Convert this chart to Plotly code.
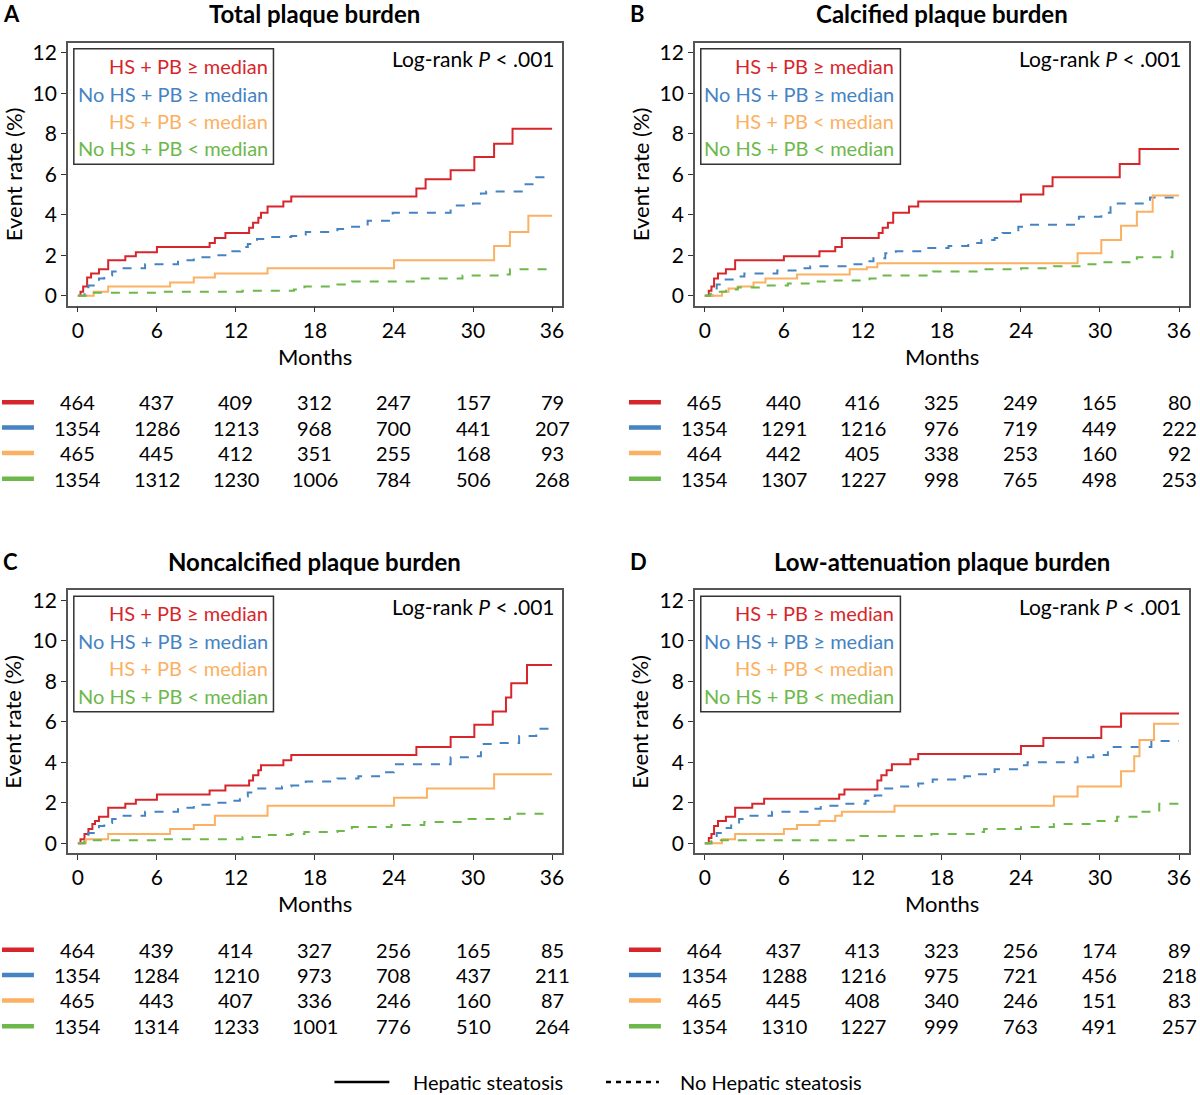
import plotly.graph_objects as go

# ---- data (months, event rate %) ----
A_RED_T = [0, 0.2, 0.4, 0.7, 1.0, 1.6, 2.3, 3.6, 4.4, 6.0, 10.0, 10.4, 11.2, 13.0, 13.3, 13.7, 13.9, 14.4, 15.6, 16.2, 25.7, 26.4, 28.3, 30.1, 31.6, 33.0, 36]
A_RED_Y = [0, 0.2, 0.45, 0.9, 1.1, 1.3, 1.75, 1.95, 2.15, 2.4, 2.6, 2.85, 3.1, 3.35, 3.6, 3.85, 4.1, 4.4, 4.65, 4.9, 5.3, 5.75, 6.2, 6.85, 7.5, 8.25, 8.25]
A_BLUE_T = [0, 0.5, 0.8, 1.2, 1.6, 2.0, 2.6, 3.3, 5.1, 7.6, 8.8, 10.5, 11.6, 12.3, 12.9, 13.6, 14.2, 16.2, 17.3, 19.7, 20.5, 22.0, 23.9, 28.3, 30.0, 30.6, 31.0, 33.7, 34.8, 36]
A_BLUE_Y = [0, 0.3, 0.5, 0.7, 0.85, 1.0, 1.2, 1.35, 1.55, 1.75, 1.9, 2.0, 2.2, 2.4, 2.55, 2.8, 2.9, 2.95, 3.15, 3.3, 3.4, 3.7, 4.1, 4.45, 4.55, 5.05, 5.15, 5.5, 5.85, 5.85]
A_ORANGE_T = [0, 1.2, 2.3, 7.0, 8.8, 10.4, 14.4, 24.0, 31.6, 32.8, 34.2, 36]
A_ORANGE_Y = [0, 0.2, 0.45, 0.65, 0.9, 1.1, 1.35, 1.75, 2.45, 3.15, 3.95, 3.95]
A_GREEN_T = [0, 0.6, 1.0, 6.0, 12.5, 16.4, 17.2, 19.7, 20.8, 26.0, 29.2, 32.0, 32.8, 36]
A_GREEN_Y = [0, 0.1, 0.15, 0.2, 0.25, 0.3, 0.45, 0.55, 0.7, 0.85, 1.0, 1.05, 1.3, 1.3]

B_RED_T = [0, 0.3, 0.5, 0.7, 1.0, 1.6, 2.3, 6.0, 8.7, 9.9, 10.4, 13.2, 13.5, 13.9, 14.3, 15.5, 16.2, 24.0, 25.7, 26.4, 31.5, 33.0, 36]
B_RED_Y = [0, 0.25, 0.45, 0.85, 1.1, 1.3, 1.75, 1.95, 2.2, 2.4, 2.85, 3.1, 3.35, 3.6, 4.1, 4.4, 4.65, 5.0, 5.4, 5.85, 6.5, 7.25, 7.25]
B_BLUE_T = [0, 0.6, 0.9, 1.5, 2.2, 3.0, 5.5, 7.0, 8.0, 11.0, 12.2, 12.8, 13.7, 14.5, 16.5, 18.5, 20.0, 21.0, 22.0, 22.6, 23.8, 24.5, 28.4, 30.1, 30.8, 33.8, 36]
B_BLUE_Y = [0, 0.3, 0.55, 0.8, 0.95, 1.1, 1.25, 1.35, 1.45, 1.55, 1.7, 1.85, 2.1, 2.2, 2.35, 2.45, 2.6, 2.75, 2.85, 3.1, 3.4, 3.5, 3.9, 4.1, 4.55, 4.85, 4.85]
B_ORANGE_T = [0, 1.3, 1.8, 2.5, 3.7, 4.6, 7.0, 11.0, 12.3, 13.1, 28.3, 30.1, 31.6, 32.8, 34.0, 36]
B_ORANGE_Y = [0, 0.2, 0.35, 0.45, 0.65, 0.85, 1.05, 1.3, 1.4, 1.6, 2.1, 2.75, 3.45, 4.15, 4.95, 4.95]
B_GREEN_T = [0, 0.4, 0.8, 1.6, 2.5, 4.5, 6.3, 8.0, 9.5, 12.5, 13.2, 17.3, 21.0, 24.0, 26.5, 29.0, 30.1, 32.8, 35.5, 36]
B_GREEN_Y = [0, 0.1, 0.2, 0.3, 0.4, 0.5, 0.6, 0.7, 0.75, 0.85, 1.0, 1.2, 1.3, 1.35, 1.45, 1.55, 1.65, 1.9, 2.2, 2.2]

C_RED_T = [0, 0.2, 0.5, 0.8, 1.1, 1.3, 1.6, 2.3, 3.6, 4.4, 6.0, 10.0, 11.2, 13.0, 13.3, 13.7, 13.9, 15.6, 16.2, 25.7, 28.3, 30.1, 31.5, 32.5, 32.9, 34.1, 36]
C_RED_Y = [0, 0.2, 0.45, 0.7, 0.95, 1.1, 1.3, 1.75, 1.95, 2.15, 2.4, 2.6, 2.85, 3.1, 3.35, 3.6, 3.85, 4.1, 4.35, 4.75, 5.25, 5.85, 6.5, 7.2, 7.9, 8.8, 8.8]
C_BLUE_T = [0, 0.5, 0.8, 1.2, 1.6, 2.0, 2.6, 3.3, 5.1, 7.6, 8.8, 10.5, 11.6, 12.3, 12.9, 13.6, 15.5, 16.2, 17.3, 19.7, 21.3, 23.3, 24.0, 28.3, 30.0, 30.6, 31.5, 33.5, 34.8, 36]
C_BLUE_Y = [0, 0.3, 0.5, 0.7, 0.85, 1.0, 1.2, 1.35, 1.55, 1.75, 1.9, 2.0, 2.1, 2.3, 2.5, 2.7, 2.8, 2.85, 3.05, 3.2, 3.3, 3.5, 3.9, 4.25, 4.3, 4.9, 4.95, 5.3, 5.65, 5.65]
C_ORANGE_T = [0, 0.6, 2.3, 7.0, 8.8, 10.4, 14.4, 24.0, 26.5, 31.6, 36]
C_ORANGE_Y = [0, 0.2, 0.45, 0.7, 0.9, 1.35, 1.85, 2.25, 2.7, 3.4, 3.4]
C_GREEN_T = [0, 0.5, 1.0, 6.0, 12.5, 14.0, 16.2, 17.2, 19.7, 20.8, 23.8, 26.3, 29.2, 32.8, 36]
C_GREEN_Y = [0, 0.1, 0.15, 0.2, 0.3, 0.4, 0.45, 0.55, 0.6, 0.8, 0.9, 1.05, 1.2, 1.45, 1.45]

D_RED_T = [0, 0.3, 0.5, 0.7, 1.0, 1.6, 2.3, 3.6, 4.5, 10.2, 10.6, 13.1, 13.4, 13.8, 14.2, 15.6, 16.2, 24.0, 25.7, 30.1, 31.6, 36]
D_RED_Y = [0, 0.25, 0.45, 0.85, 1.1, 1.3, 1.75, 1.95, 2.2, 2.4, 2.65, 3.1, 3.35, 3.6, 3.9, 4.15, 4.4, 4.8, 5.2, 5.75, 6.4, 6.4]
D_BLUE_T = [0, 0.5, 0.9, 1.4, 2.0, 2.6, 3.3, 5.1, 7.8, 8.8, 10.5, 12.2, 12.9, 13.6, 14.6, 16.2, 17.3, 19.7, 20.5, 22.0, 23.9, 24.5, 28.3, 29.5, 30.6, 33.9, 36]
D_BLUE_Y = [0, 0.25, 0.5, 0.75, 0.95, 1.2, 1.35, 1.55, 1.7, 1.85, 1.95, 2.1, 2.35, 2.7, 2.8, 2.95, 3.15, 3.3, 3.4, 3.65, 3.85, 4.0, 4.25, 4.35, 4.75, 5.05, 5.05]
D_ORANGE_T = [0, 1.3, 2.3, 6.0, 7.0, 8.7, 9.9, 10.4, 14.4, 26.5, 28.3, 31.6, 32.6, 33.0, 34.1, 36]
D_ORANGE_Y = [0, 0.2, 0.45, 0.7, 0.9, 1.1, 1.35, 1.55, 1.85, 2.3, 2.8, 3.55, 4.3, 5.1, 5.9, 5.9]
D_GREEN_T = [0, 0.5, 1.0, 11.8, 17.2, 20.6, 21.2, 24.0, 26.5, 29.3, 31.3, 33.0, 34.5, 36]
D_GREEN_Y = [0, 0.1, 0.15, 0.35, 0.45, 0.55, 0.7, 0.8, 0.95, 1.1, 1.3, 1.55, 1.95, 1.95]

# numbers at risk (0, 6, ..., 36 months)
A_RISK_RED = [464, 437, 409, 312, 247, 157, 79]
A_RISK_BLUE = [1354, 1286, 1213, 968, 700, 441, 207]
A_RISK_ORANGE = [465, 445, 412, 351, 255, 168, 93]
A_RISK_GREEN = [1354, 1312, 1230, 1006, 784, 506, 268]
B_RISK_RED = [465, 440, 416, 325, 249, 165, 80]
B_RISK_BLUE = [1354, 1291, 1216, 976, 719, 449, 222]
B_RISK_ORANGE = [464, 442, 405, 338, 253, 160, 92]
B_RISK_GREEN = [1354, 1307, 1227, 998, 765, 498, 253]
C_RISK_RED = [464, 439, 414, 327, 256, 165, 85]
C_RISK_BLUE = [1354, 1284, 1210, 973, 708, 437, 211]
C_RISK_ORANGE = [465, 443, 407, 336, 246, 160, 87]
C_RISK_GREEN = [1354, 1314, 1233, 1001, 776, 510, 264]
D_RISK_RED = [464, 437, 413, 323, 256, 174, 89]
D_RISK_BLUE = [1354, 1288, 1216, 975, 721, 456, 218]
D_RISK_ORANGE = [465, 445, 408, 340, 246, 151, 83]
D_RISK_GREEN = [1354, 1310, 1227, 999, 763, 491, 257]

MONTH_TICKS = [0, 6, 12, 18, 24, 30, 36]
GROUPS = ["HS + PB ≥ median", "No HS + PB ≥ median", "HS + PB &lt; median", "No HS + PB &lt; median"]
TITLES = ["Total plaque burden", "Calcified plaque burden", "Noncalcified plaque burden", "Low-attenuation plaque burden"]
LETTERS = ["A", "B", "C", "D"]

COLORS = ["#d7262b", "#4583c3", "#fbb062", "#6db84b"]
DASHES = ["solid", "dash", "solid", "dash"]
FONT = "Lato"

W, H = 1200, 1095


def px(p):
    return p / W


def py(p):
    return 1 - p / H


curves = [
    [(A_RED_T, A_RED_Y), (A_BLUE_T, A_BLUE_Y), (A_ORANGE_T, A_ORANGE_Y), (A_GREEN_T, A_GREEN_Y)],
    [(B_RED_T, B_RED_Y), (B_BLUE_T, B_BLUE_Y), (B_ORANGE_T, B_ORANGE_Y), (B_GREEN_T, B_GREEN_Y)],
    [(C_RED_T, C_RED_Y), (C_BLUE_T, C_BLUE_Y), (C_ORANGE_T, C_ORANGE_Y), (C_GREEN_T, C_GREEN_Y)],
    [(D_RED_T, D_RED_Y), (D_BLUE_T, D_BLUE_Y), (D_ORANGE_T, D_ORANGE_Y), (D_GREEN_T, D_GREEN_Y)],
]
risks = [
    [A_RISK_RED, A_RISK_BLUE, A_RISK_ORANGE, A_RISK_GREEN],
    [B_RISK_RED, B_RISK_BLUE, B_RISK_ORANGE, B_RISK_GREEN],
    [C_RISK_RED, C_RISK_BLUE, C_RISK_ORANGE, C_RISK_GREEN],
    [D_RISK_RED, D_RISK_BLUE, D_RISK_ORANGE, D_RISK_GREEN],
]

# panel boxes in pixels: left, top (width/height shared)
LEFTS = [68, 696, 68, 696]
TOPS = [39, 39, 589, 589]
PW, PH = 495, 264

fig = go.Figure()
annotations = []
shapes = []

for i in range(4):
    n = "" if i == 0 else str(i + 1)
    xa, ya = "x" + n, "y" + n
    left, top = LEFTS[i], TOPS[i]
    off = top - 39

    for g, (t, y) in enumerate(curves[i]):
        fig.add_trace(go.Scatter(
            x=t, y=y, mode="lines", line_shape="hv",
            line=dict(color=COLORS[g], width=2, dash=DASHES[g]),
            xaxis=xa, yaxis=ya, showlegend=False, hoverinfo="skip",
        ))

    axis_common = dict(
        showline=True, mirror=True, linecolor="#555555", linewidth=1.5,
        ticks="outside", ticklen=5, tickwidth=1.2, tickcolor="#333333",
        showgrid=False, zeroline=False,
        tickfont=dict(family=FONT, size=21, color="black"),
    )
    fig.update_layout(**{
        ("xaxis" + n): dict(
            domain=[px(left), px(left + PW)], anchor=ya, range=[-0.76, 36.76],
            tickvals=MONTH_TICKS, **axis_common),
        ("yaxis" + n): dict(
            domain=[py(top + PH), py(top)], anchor=xa, range=[-0.49, 12.49],
            tickvals=[0, 2, 4, 6, 8, 10, 12], **axis_common),
    })

    # in-plot legend box
    shapes.append(dict(type="rect", xref=xa + " domain", yref=ya + " domain",
                       x0=0.012, x1=0.416, y0=0.538, y1=0.977,
                       line=dict(color="#333333", width=1.5), fillcolor="white", layer="below"))
    for g, ypos in enumerate([0.913, 0.807, 0.703, 0.598]):
        annotations.append(dict(
            text=GROUPS[g], xref=xa + " domain", yref=ya + " domain",
            x=0.408, y=ypos, xanchor="right", yanchor="middle", showarrow=False,
            font=dict(family=FONT, size=20, color=COLORS[g])))

    annotations.append(dict(
        text="Log-rank <i>P</i> &lt; .001", xref=xa + " domain", yref=ya + " domain",
        x=0.99, y=0.94, xanchor="right", yanchor="middle", showarrow=False,
        font=dict(family=FONT, size=21, color="black")))

    # titles
    annotations.append(dict(
        text="<b>" + TITLES[i] + "</b>", xref=xa + " domain", yref="paper",
        x=0.5, y=py(off + 10), xanchor="center", yanchor="middle", showarrow=False,
        font=dict(family=FONT, size=24, color="black")))
    annotations.append(dict(
        text="<b>" + LETTERS[i] + "</b>", xref="paper", yref="paper",
        x=px(left - 67), y=py(off + 10), xanchor="left", yanchor="middle", showarrow=False,
        font=dict(family=FONT, size=22, color="black")))
    annotations.append(dict(
        text="Event rate (%)", xref="paper", yref=ya + " domain",
        x=px(left - 55), y=0.5, textangle=-90, xanchor="center", yanchor="middle",
        showarrow=False, font=dict(family=FONT, size=22, color="black")))
    annotations.append(dict(
        text="Months", xref=xa + " domain", yref="paper",
        x=0.5, y=py(off + 354), xanchor="center", yanchor="middle", showarrow=False,
        font=dict(family=FONT, size=22, color="black")))

    # number-at-risk table
    for g, row_y in enumerate([400, 425.5, 451, 477]):
        shapes.append(dict(type="line", xref="paper", yref="paper",
                           x0=px(left - 66), x1=px(left - 34),
                           y0=py(off + row_y), y1=py(off + row_y),
                           line=dict(color=COLORS[g], width=4.5)))
        for m, v in zip(MONTH_TICKS, risks[i][g]):
            annotations.append(dict(
                text=str(v), xref=xa, yref="paper", x=m, y=py(off + row_y),
                xanchor="center", yanchor="middle", showarrow=False,
                font=dict(family=FONT, size=20, color="black")))

# line-style key at the bottom
shapes.append(dict(type="line", xref="paper", yref="paper", x0=px(335), x1=px(390),
                   y0=py(1083), y1=py(1083), line=dict(color="black", width=2.5)))
shapes.append(dict(type="line", xref="paper", yref="paper", x0=px(607), x1=px(660),
                   y0=py(1083), y1=py(1083), line=dict(color="black", width=2.5, dash="5px,5px")))
annotations.append(dict(text="Hepatic steatosis", xref="paper", yref="paper", x=px(412), y=py(1083),
                        xanchor="left", yanchor="middle", showarrow=False,
                        font=dict(family=FONT, size=20, color="black")))
annotations.append(dict(text="No Hepatic steatosis", xref="paper", yref="paper", x=px(679), y=py(1083),
                        xanchor="left", yanchor="middle", showarrow=False,
                        font=dict(family=FONT, size=20, color="black")))

fig.update_layout(
    width=W, height=H, autosize=False,
    margin=dict(l=0, r=0, t=0, b=0),
    paper_bgcolor="white", plot_bgcolor="white",
    annotations=annotations, shapes=shapes, showlegend=False,
)

# drop the default page margin so the 1200x1095 figure fills the window
fig.write_html(
    "out.html",
    config={"displayModeBar": False},
    post_script="document.body.style.margin='0px';document.body.style.overflow='hidden';",
)
